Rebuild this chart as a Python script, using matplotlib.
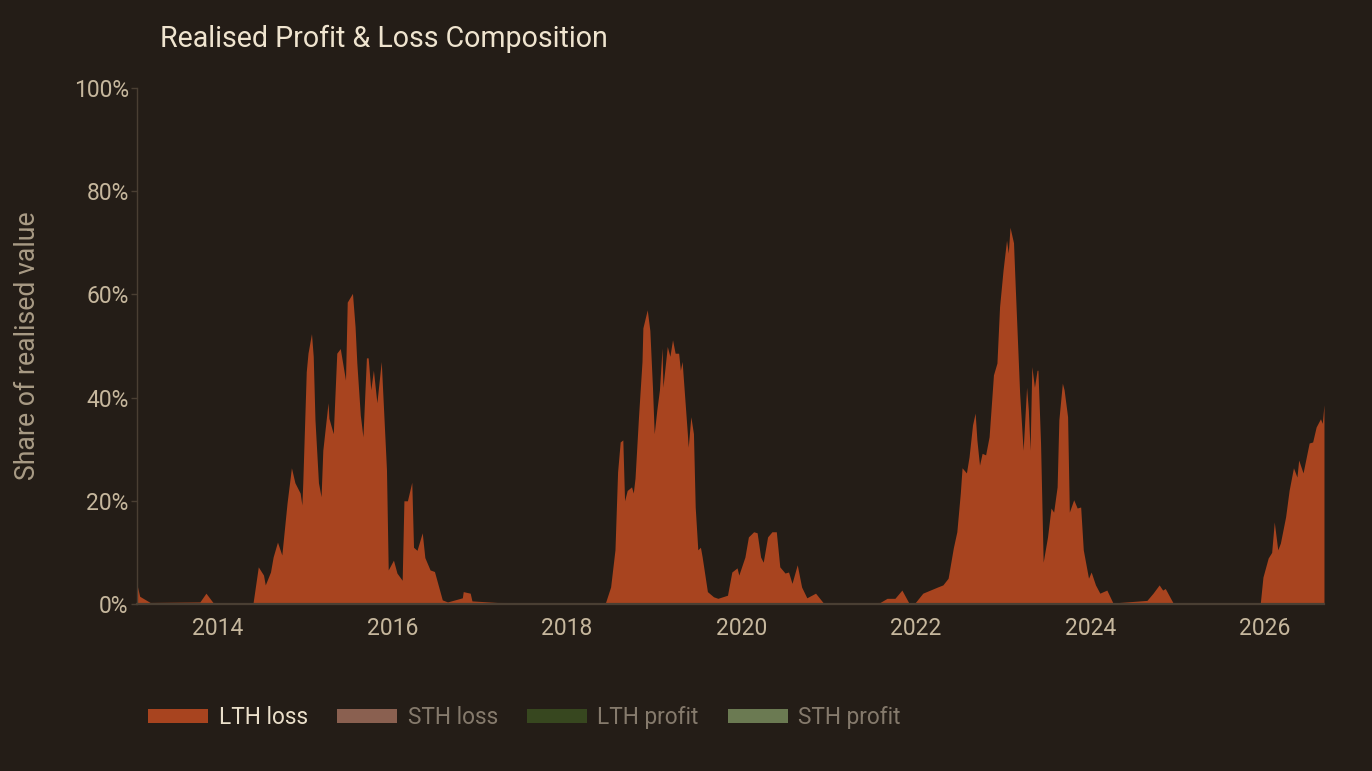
import matplotlib
matplotlib.use('Agg')
import matplotlib.pyplot as plt
from matplotlib.patches import Patch

# Доля реализованной стоимости, LTH loss (%), по годам (десятичный год)
years = [2013.07, 2013.10, 2013.22, 2013.79, 2013.86, 2013.94, 2014.40, 2014.46, 2014.52, 2014.54,
         2014.60, 2014.63, 2014.68, 2014.73, 2014.79, 2014.84, 2014.88, 2014.94, 2014.96, 2014.97,
         2015.01, 2015.03, 2015.07, 2015.09, 2015.11, 2015.15, 2015.18, 2015.20, 2015.26, 2015.27,
         2015.32, 2015.36, 2015.40, 2015.46, 2015.48, 2015.54, 2015.57, 2015.59, 2015.63, 2015.66,
         2015.70, 2015.72, 2015.75, 2015.78, 2015.82, 2015.87, 2015.89, 2015.93, 2015.95, 2016.01,
         2016.05, 2016.11, 2016.13, 2016.17, 2016.22, 2016.24, 2016.28, 2016.34, 2016.37, 2016.43,
         2016.48, 2016.57, 2016.63, 2016.80, 2016.81, 2016.89, 2016.91, 2017.20, 2018.44, 2018.50,
         2018.55, 2018.58, 2018.61, 2018.64, 2018.66, 2018.69, 2018.74, 2018.76, 2018.78, 2018.82,
         2018.86, 2018.87, 2018.92, 2018.95, 2018.98, 2019.00, 2019.03, 2019.06, 2019.09, 2019.10,
         2019.15, 2019.18, 2019.21, 2019.24, 2019.28, 2019.30, 2019.32, 2019.38, 2019.39, 2019.42,
         2019.45, 2019.47, 2019.50, 2019.53, 2019.55, 2019.61, 2019.68, 2019.73, 2019.84, 2019.89,
         2019.95, 2019.97, 2020.04, 2020.08, 2020.14, 2020.18, 2020.22, 2020.25, 2020.30, 2020.35,
         2020.40, 2020.44, 2020.50, 2020.54, 2020.58, 2020.64, 2020.69, 2020.75, 2020.85, 2020.94,
         2021.59, 2021.67, 2021.76, 2021.84, 2021.92, 2021.99, 2022.08, 2022.25, 2022.31, 2022.37,
         2022.43, 2022.47, 2022.51, 2022.53, 2022.58, 2022.61, 2022.65, 2022.68, 2022.70, 2022.73,
         2022.76, 2022.80, 2022.84, 2022.89, 2022.93, 2022.96, 2023.00, 2023.04, 2023.06, 2023.08,
         2023.12, 2023.14, 2023.19, 2023.23, 2023.27, 2023.29, 2023.31, 2023.33, 2023.36, 2023.39,
         2023.40, 2023.43, 2023.46, 2023.51, 2023.55, 2023.58, 2023.62, 2023.64, 2023.68, 2023.70,
         2023.74, 2023.76, 2023.81, 2023.85, 2023.89, 2023.92, 2023.98, 2024.01, 2024.06, 2024.11,
         2024.19, 2024.26, 2024.65, 2024.72, 2024.79, 2024.83, 2024.86, 2024.95, 2025.95, 2025.98,
         2026.04, 2026.08, 2026.11, 2026.15, 2026.18, 2026.24, 2026.28, 2026.33, 2026.37, 2026.39,
         2026.44, 2026.51, 2026.55, 2026.59, 2026.64, 2026.66, 2026.68]
lth_loss = [3.7, 1.5, 0.3, 0.4, 2.1, 0.3, 0.2, 7.2, 5.6, 3.7,
            6.2, 9.1, 12.0, 9.5, 19.6, 26.4, 23.5, 21.5, 19.2, 23.4,
            45.0, 48.6, 52.4, 48.0, 35.7, 23.5, 20.8, 29.8, 39.0, 36.0,
            33.0, 48.6, 49.5, 43.4, 58.5, 60.2, 53.7, 46.7, 36.6, 32.4,
            47.7, 47.7, 41.5, 45.3, 39.0, 47.0, 40.0, 26.0, 6.6, 8.5,
            6.0, 4.6, 20.0, 20.0, 23.6, 11.0, 10.4, 13.8, 9.0, 6.6,
            6.3, 0.8, 0.4, 1.2, 2.4, 2.1, 0.6, 0.3, 0.2, 3.3,
            10.5, 25.6, 31.4, 31.8, 20.0, 22.0, 22.7, 21.5, 24.4, 36.3,
            47.0, 53.5, 57.0, 53.0, 42.0, 33.0, 37.6, 41.5, 49.6, 42.0,
            49.9, 48.0, 51.2, 48.6, 48.6, 45.3, 47.0, 33.0, 30.4, 36.3,
            33.0, 18.8, 10.5, 11.0, 9.1, 2.4, 1.4, 1.1, 1.7, 6.2,
            7.0, 5.6, 9.1, 13.0, 14.0, 13.8, 9.1, 8.1, 13.0, 14.0,
            14.0, 7.2, 6.0, 6.2, 4.0, 7.6, 3.3, 1.2, 2.1, 0.2,
            0.3, 1.1, 1.1, 2.7, 0.2, 0.2, 2.1, 3.3, 3.7, 5.0,
            10.9, 14.0, 21.5, 26.4, 25.4, 28.5, 34.7, 37.0, 31.8, 26.9,
            29.2, 28.9, 32.4, 44.4, 46.7, 57.6, 64.7, 70.5, 68.0, 73.0,
            70.0, 61.4, 40.9, 29.8, 42.0, 37.6, 29.8, 46.0, 42.0, 45.3,
            45.3, 31.2, 8.1, 13.0, 18.6, 17.8, 22.7, 35.7, 42.8, 41.5,
            36.3, 17.8, 20.2, 18.6, 18.8, 10.5, 5.0, 6.2, 3.7, 2.1,
            2.7, 0.2, 0.7, 2.1, 3.7, 2.7, 3.0, 0.2, 0.2, 5.2,
            8.9, 10.0, 15.9, 10.5, 11.8, 16.9, 22.0, 26.4, 24.6, 27.9,
            25.4, 31.2, 31.4, 34.3, 35.9, 35.0, 38.6]

tick_years = [2014, 2016, 2018, 2020, 2022, 2024, 2026]
y_ticks = [0, 20, 40, 60, 80, 100]
series_names = ['LTH loss', 'STH loss', 'LTH profit', 'STH profit']
series_colors = ['#a8441f', '#8a6050', '#37471f', '#6b7a52']
series_active = [True, False, False, False]

bg = '#241d17'
axis_col = '#4a3f33'
tick_col = '#c6b79d'

plt.rcParams['font.family'] = ['Roboto', 'DejaVu Sans']

fig = plt.figure(figsize=(13.72, 7.71), dpi=100, facecolor=bg)
ax = fig.add_axes([0.0999, 0.2166, 0.8651, 0.6693])
ax.set_facecolor(bg)

ax.fill_between(years, lth_loss, 0, color=series_colors[0], linewidth=0)

ax.set_xlim(2013.07, 2026.68)
ax.set_ylim(0, 100)
ax.set_xticks(tick_years)
ax.set_xticklabels([str(y) for y in tick_years])
ax.set_yticks(y_ticks)
ax.set_yticklabels([f'{v}%' for v in y_ticks])

for s in ['top', 'right']:
    ax.spines[s].set_visible(False)
ax.spines['left'].set_color(axis_col)
ax.spines['left'].set_linewidth(1.0)
ax.spines['bottom'].set_color(axis_col)
ax.spines['bottom'].set_linewidth(1.6)

ax.tick_params(axis='x', length=0, pad=9, labelsize=16.5, labelcolor=tick_col)
ax.tick_params(axis='y', length=4, width=1, color=axis_col, pad=2,
               labelsize=16.5, labelcolor=tick_col)

# подпись оси Y
fig.text(0.0197, 0.5512, 'Share of realised value', fontsize=19.2, color='#a99b85',
         rotation=90, ha='center', va='center')

fig.text(0.1166, 0.939, 'Realised Profit & Loss Composition', fontsize=20.6,
         color='#efe4cf', ha='left', va='baseline')

handles = [Patch(facecolor=c, edgecolor='none') for c in series_colors]
leg = fig.legend(handles, series_names, loc='center left', bbox_to_anchor=(0.1079, 0.0694),
                 ncol=4, frameon=False, fontsize=16.3, handlelength=2.65, handleheight=0.57,
                 handletextpad=0.48, columnspacing=1.27, borderpad=0, borderaxespad=0)
for txt, active in zip(leg.get_texts(), series_active):
    txt.set_color('#eadfca' if active else '#857a6c')

fig.savefig('out.png', dpi=100, facecolor=bg)
